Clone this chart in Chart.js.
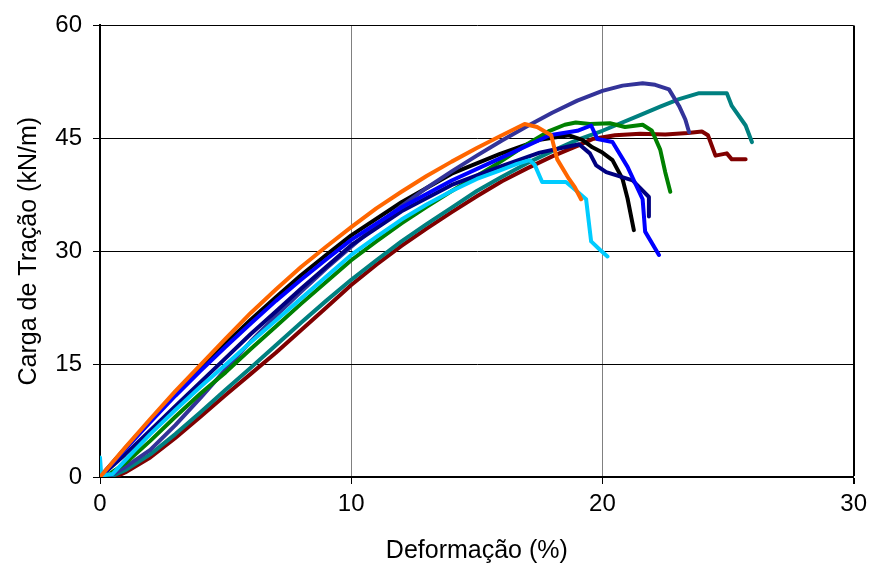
<!DOCTYPE html>
<html>
<head>
<meta charset="utf-8">
<script src="https://cdn.jsdelivr.net/npm/chart.js@4"></script>
<style>
  html, body { margin: 0; padding: 0; background: #fff; }
  #wrap { width: 873px; height: 569px; }
</style>
</head>
<body>
<div id="wrap"><canvas id="grafico"></canvas></div>
<script>
// Curvas carga x deformação
const laranja = [[0,0],[1,3.9],[2,7.7],[3,11.4],[4,14.9],[5,18.4],[6,21.8],[7,24.9],[8,27.9],[9,30.6],[10,33.2],[11,35.7],[12,37.9],[13,40.0],[14,41.9],[15,43.7],[16,45.4],[16.9,46.9],[17.4,46.5],[17.96,45.4],[18.2,42.2],[18.67,39.6],[18.9,38.5],[19.15,36.9]];
const ciano = [[0,2.6],[0.05,0.2],[0.5,0.4],[1,2.2],[2,5.7],[3,8.9],[4,12.0],[5,14.9],[6,17.9],[7,20.8],[8,23.7],[9,26.6],[10,29.5],[11,31.9],[12,34.2],[13,36.2],[14,38.0],[15,39.6],[15.9,40.7],[16.6,41.6],[17.1,42.1],[17.3,41.5],[17.6,39.2],[18.55,39.2],[18.8,38.5],[19.35,36.9],[19.55,31.3],[19.9,30.2],[20.2,29.3]];
const azul = [[0,0],[1,3.7],[2,7.3],[3,10.8],[4,14.1],[5,17.3],[6,20.4],[7,23.4],[8,26.2],[9,28.9],[10,31.5],[12,35.8],[14,39.4],[15.9,42.3],[17.9,45.4],[19.0,46.0],[19.55,46.7],[19.8,44.9],[20.4,44.5],[21,41.2],[21.6,36.9],[21.7,32.6],[22.25,29.5]];
const marinho = [[0,0],[1,3.0],[2,6.2],[3,9.4],[4,12.6],[5,15.8],[6,19.0],[7,22.0],[8,25.0],[9,27.9],[10,30.8],[12,35.3],[14,38.8],[15.9,41.2],[17.5,43.1],[19.07,44.2],[19.5,43.0],[19.75,41.4],[20.15,40.5],[21.2,39.4],[21.85,37.2],[21.85,34.6]];
const verde = [[0.2,0],[1,1.8],[2,4.8],[3,8.0],[4,11.1],[5,13.9],[6,17.0],[7,20.0],[8,23.0],[9,25.9],[10,28.8],[11,31.3],[12,33.7],[13,35.9],[14,38.0],[15,40.0],[15.9,41.8],[17,44.2],[17.9,46.0],[18.5,46.8],[18.94,47.1],[19.5,46.9],[20.3,47.0],[20.9,46.5],[21.6,46.8],[21.97,46.0],[22.3,43.5],[22.5,40.5],[22.7,37.9]];
const ardosia = [[0.3,0],[1,1.3],[2,3.6],[3,6.9],[4,10.5],[5,14.3],[6,18.0],[7,21.4],[8,24.6],[9,27.7],[10,30.6],[11,33.4],[12,36.0],[13,38.4],[14,40.6],[15,42.7],[16,44.7],[17,46.6],[18,48.4],[19,50.0],[20,51.3],[20.8,52.0],[21.6,52.3],[22.1,52.1],[22.65,51.5],[23.05,49.3],[23.3,47.5],[23.45,45.8]];
const preto = [[0,0],[1,3.8],[2,7.5],[3,11.0],[4,14.4],[5,17.7],[6,20.9],[7,23.9],[8,26.8],[9,29.5],[10,32.1],[12,36.5],[14,40.3],[15.9,42.9],[17.5,44.8],[18.67,45.4],[19.2,44.8],[19.6,43.8],[20.0,43.1],[20.4,42.1],[20.8,39.6],[21.0,37.0],[21.25,32.8]];
const petroleo = [[0.4,0],[1,0.9],[2,3.0],[3,5.7],[4,8.6],[5,11.6],[6,14.5],[7,17.5],[8,20.5],[9,23.4],[10,26.2],[11,28.8],[12,31.3],[13,33.6],[14,35.8],[15,38.0],[16,39.9],[17,41.7],[18,43.3],[19,44.8],[20,46.0],[21.45,48.0],[22.3,49.2],[23.05,50.2],[23.85,51.0],[24.95,51.0],[25.15,49.3],[25.7,46.7],[25.95,44.5]];
const vinho = [[0.6,0],[1,0.6],[2,2.6],[3,5.2],[4,8.0],[5,10.9],[6,13.7],[7,16.5],[8,19.5],[9,22.5],[10,25.5],[11,28.2],[12,30.7],[13,33.0],[14,35.2],[15,37.3],[16,39.3],[17,41.0],[18,42.6],[19,44.0],[19.6,44.9],[20.5,45.4],[21.5,45.6],[22.5,45.5],[23.4,45.7],[23.96,45.9],[24.2,45.4],[24.5,42.7],[24.95,43.0],[25.15,42.2],[25.7,42.2]];

// primeira série fica por cima no Chart.js
const series = [
    { dados: laranja, cor: '#FF6600' },
    { dados: ciano, cor: '#00CCFF' },
    { dados: azul, cor: '#0000FF' },
    { dados: marinho, cor: '#000080' },
    { dados: verde, cor: '#008000' },
    { dados: ardosia, cor: '#333399' },
    { dados: preto, cor: '#000000' },
    { dados: petroleo, cor: '#008080' },
    { dados: vinho, cor: '#800000' }
];

const fonte = { family: 'Liberation Sans, Arial, sans-serif', size: 24 };
const fonteTitulo = { family: 'Liberation Sans, Arial, sans-serif', size: 25 };

new Chart(document.getElementById('grafico'), {
    type: 'scatter',
    data: {
        datasets: series.map(s => ({
            data: s.dados.map(p => ({ x: p[0], y: p[1] })),
            borderColor: s.cor,
            backgroundColor: s.cor,
            borderWidth: 4,
            showLine: true,
            pointRadius: 0,
            tension: 0,
            borderJoinStyle: 'round',
            borderCapStyle: 'round'
        }))
    },
    options: {
        responsive: true,
        maintainAspectRatio: false,
        animation: false,
        layout: { padding: { top: 22, right: 18, bottom: 0, left: 0 } },
        plugins: { legend: { display: false }, tooltip: { enabled: false } },
        scales: {
            x: {
                type: 'linear',
                min: 0, max: 30,
                afterFit: s => { s.height = 92; },
                ticks: { stepSize: 10, color: '#000', font: fonte, padding: 6, maxRotation: 0 },
                grid: {
                    color: c => (c.tick.value === 30 ? '#000' : '#808080'),
                    lineWidth: c => (c.tick.value === 30 ? 2 : 1),
                    tickColor: '#000',
                    tickLength: 7
                },
                border: { color: '#000', width: 2 },
                title: { display: true, text: 'Deformação (%)', color: '#000', font: fonteTitulo, padding: { top: 4, bottom: 3 } }
            },
            y: {
                min: 0, max: 60,
                afterFit: s => { s.width = 100; },
                ticks: { stepSize: 15, color: '#000', font: fonte, padding: 11 },
                grid: {
                    color: '#000',
                    lineWidth: 1,
                    tickColor: '#000',
                    tickLength: 7
                },
                border: { color: '#000', width: 2 },
                title: { display: true, text: 'Carga de Tração (kN/m)', color: '#000', font: fonteTitulo, padding: { top: 14, bottom: 0 } }
            }
        }
    }
});
</script>
</body>
</html>
